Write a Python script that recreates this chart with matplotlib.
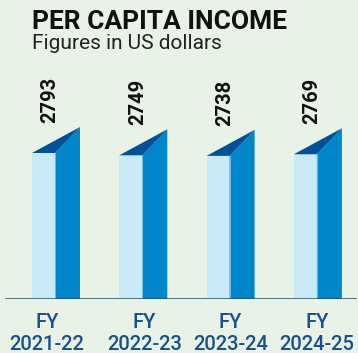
import matplotlib.pyplot as plt
from matplotlib.patches import Polygon

years = ['2021-22', '2022-23', '2023-24', '2024-25']
income = [2793, 2749, 2738, 2769]

bg = '#e8f2e6'
front_col = '#c9e9f6'
side_col = '#0086cb'
top_col = '#00509a'
label_col = '#17508f'

W, H = 358, 353
fig = plt.figure(figsize=(W / 100, H / 100), dpi=100, facecolor=bg)

# axes: baseline at y=299px, slot width 87.3px, first bar edge at x=55px
slot = 87.3
base_px, top_px = 299, 60
ax = fig.add_axes([0, (H - base_px) / H, 1, (base_px - top_px) / H])
ax.set_facecolor(bg)
ax.set_xlim(-55 / slot, (W - 55) / slot)
px_per_unit = 146 / max(income)
ax.set_ylim(0, (base_px - top_px) / px_per_unit)
ax.axis('off')

fw = 23 / slot      # front face width
sw = 25 / slot      # side face width
depth = 26 / px_per_unit   # rise of the back edge

xs = range(len(income))
ax.bar(xs, income, width=-fw, align='edge', color=front_col, linewidth=0, zorder=2)
for x, v in zip(xs, income):
    ax.add_patch(Polygon([(x, 0), (x, v), (x + sw, v + depth), (x + sw, 0)],
                         closed=True, facecolor=side_col, edgecolor='none', zorder=2))
    ax.add_patch(Polygon([(x - fw, v), (x + sw, v + depth), (x, v)],
                         closed=True, facecolor=top_col, edgecolor='none', zorder=3))
    ax.plot([x, x], [0, v], color='#7cc3e6', lw=0.6, zorder=4)
    ax.text(x - 5 / slot, v + depth + 4 / px_per_unit, f'{v}', rotation=90,
            ha='center', va='bottom', fontsize=14.5, fontweight='bold',
            family='Roboto', color='#111111')

ax.axhline(0, xmin=6 / W, xmax=355 / W, color='#23505f', lw=1.8, zorder=5)

# category labels under the axis
shift_px = [-8, 2, 1, 0]
for x, yr, s in zip(xs, years, shift_px):
    cx = (55 + x * slot + s) / W
    fig.text(cx, 1 - 328 / H, 'FY', ha='center', va='baseline', fontsize=14.5,
             fontweight='medium', family='Roboto', color=label_col)
    fig.text(cx, 1 - 350 / H, yr, ha='center', va='baseline', fontsize=14.5,
             fontweight='medium', family='Roboto', color=label_col)

fig.text(32 / W, 1 - 29 / H, 'PER CAPITA INCOME', ha='left', va='baseline',
         fontsize=19, fontweight='bold', family='Roboto', color='#111111')
fig.text(32 / W, 1 - 49 / H, 'Figures in US dollars', ha='left', va='baseline',
         fontsize=15, fontweight='normal', family='Roboto', color='#222222')

fig.savefig('out.png', dpi=100, facecolor=bg)
